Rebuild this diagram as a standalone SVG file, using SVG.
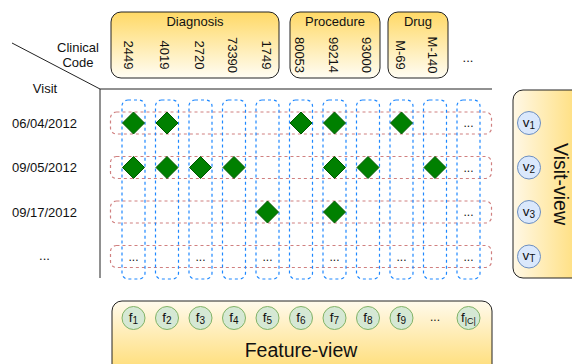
<svg xmlns="http://www.w3.org/2000/svg" width="572" height="364" viewBox="0 0 572 364">
<defs>
<linearGradient id="gTop" x1="0" y1="0" x2="0" y2="1"><stop offset="0" stop-color="#ffd966"/><stop offset="1" stop-color="#fffdf4"/></linearGradient>
<linearGradient id="gRight" x1="0" y1="0" x2="1" y2="0"><stop offset="0" stop-color="#fff8e6"/><stop offset="1" stop-color="#ffd966"/></linearGradient>
<linearGradient id="gBottom" x1="0" y1="0" x2="0" y2="1"><stop offset="0" stop-color="#fffaec"/><stop offset="1" stop-color="#ffd966"/></linearGradient>
<style>
text{font-family:"Liberation Sans",Arial,sans-serif;fill:#111;}
.t13{font-size:13px;}
.mid{text-anchor:middle;}
.code{font-size:13px;text-anchor:middle;dominant-baseline:central;}
.box{stroke:#222;stroke-width:1;}
.row{fill:none;stroke:#d08080;stroke-width:1.2;stroke-dasharray:3 3;}
.col{fill:none;stroke:#1e88ff;stroke-width:1.2;stroke-dasharray:3 3;}
.dia{fill:#008000;stroke:#005700;stroke-width:1;}
.vc{fill:#dae8fc;stroke:#6c8ebf;stroke-width:1;}
.fc{fill:#d5e8d4;stroke:#82b366;stroke-width:1;}
.cl{font-size:12px;text-anchor:middle;}
.lb{font-size:13.5px;text-anchor:middle;}
.big{font-size:19.5px;text-anchor:middle;}
.line{stroke:#222;stroke-width:1;fill:none;}
</style>
</defs>

<g id="axes">
<line class="line" x1="12" y1="43" x2="100" y2="89"/>
<line class="line" x1="100" y1="89" x2="492" y2="89"/>
<line class="line" x1="100" y1="89" x2="100" y2="278"/>
<text class="t13 mid" x="78" y="52">Clinical</text>
<text class="t13 mid" x="78" y="67">Code</text>
<text class="t13 mid" x="45" y="93">Visit</text>
</g>

<g id="diagnosis">
<rect class="box" x="111" y="12" width="168" height="66" rx="10" fill="url(#gTop)"/>
<text class="t13 mid" x="195" y="26">Diagnosis</text>
<text class="code" x="128.5" y="55" transform="rotate(90 128.5 55)">2449</text>
<text class="code" x="164.5" y="55" transform="rotate(90 164.5 55)">4019</text>
<text class="code" x="199" y="55" transform="rotate(90 199 55)">2720</text>
<text class="code" x="232.5" y="55" transform="rotate(90 232.5 55)">73390</text>
<text class="code" x="266.5" y="55" transform="rotate(90 266.5 55)">1749</text>
</g>
<g id="procedure">
<rect class="box" x="290" y="12" width="90" height="66" rx="10" fill="url(#gTop)"/>
<text class="t13 mid" x="335" y="26">Procedure</text>
<text class="code" x="299.5" y="55" transform="rotate(90 299.5 55)">80053</text>
<text class="code" x="333.5" y="55" transform="rotate(90 333.5 55)">99214</text>
<text class="code" x="366.5" y="55" transform="rotate(90 366.5 55)">93000</text>
</g>
<g id="drug">
<rect class="box" x="388" y="12" width="60" height="66" rx="10" fill="url(#gTop)"/>
<text class="t13 mid" x="418" y="26">Drug</text>
<text class="code" x="400" y="55" transform="rotate(90 400 55)">M-69</text>
<text class="code" x="432.5" y="55" transform="rotate(90 432.5 55)">M-140</text>
</g>
<text class="t13 mid" x="468" y="62">...</text>

<g id="visit-labels">
<text class="t13 mid" x="44.5" y="128">06/04/2012</text>
<text class="t13 mid" x="44.5" y="172">09/05/2012</text>
<text class="t13 mid" x="44.5" y="216.5">09/17/2012</text>
<text class="t13 mid" x="44.5" y="260">...</text>
</g>

<g id="rows">
<rect class="row" x="110.5" y="112" width="381" height="22" rx="6"/>
<rect class="row" x="110.5" y="156.5" width="381" height="22" rx="6"/>
<rect class="row" x="110.5" y="201" width="381" height="22" rx="6"/>
<rect class="row" x="110.5" y="245.5" width="381" height="22" rx="6"/>
</g>
<g id="columns">
<rect class="col" x="122" y="100" width="23" height="179" rx="6"/>
<rect class="col" x="155.5" y="100" width="23" height="179" rx="6"/>
<rect class="col" x="189" y="100" width="23" height="179" rx="6"/>
<rect class="col" x="222.5" y="100" width="23" height="179" rx="6"/>
<rect class="col" x="256" y="100" width="23" height="179" rx="6"/>
<rect class="col" x="289.5" y="100" width="23" height="179" rx="6"/>
<rect class="col" x="323" y="100" width="23" height="179" rx="6"/>
<rect class="col" x="356.5" y="100" width="23" height="179" rx="6"/>
<rect class="col" x="390" y="100" width="23" height="179" rx="6"/>
<rect class="col" x="423.5" y="100" width="23" height="179" rx="6"/>
<rect class="col" x="457" y="100" width="23" height="179" rx="6"/>
</g>

<g id="cells">
<path class="dia" d="M133.5 112 l11 11 l-11 11 l-11 -11 z"/>
<path class="dia" d="M167 112 l11 11 l-11 11 l-11 -11 z"/>
<path class="dia" d="M301 112 l11 11 l-11 11 l-11 -11 z"/>
<path class="dia" d="M334.5 112 l11 11 l-11 11 l-11 -11 z"/>
<path class="dia" d="M401.5 112 l11 11 l-11 11 l-11 -11 z"/>

<path class="dia" d="M133.5 156.5 l11 11 l-11 11 l-11 -11 z"/>
<path class="dia" d="M167 156.5 l11 11 l-11 11 l-11 -11 z"/>
<path class="dia" d="M200.5 156.5 l11 11 l-11 11 l-11 -11 z"/>
<path class="dia" d="M234 156.5 l11 11 l-11 11 l-11 -11 z"/>
<path class="dia" d="M334.5 156.5 l11 11 l-11 11 l-11 -11 z"/>
<path class="dia" d="M368 156.5 l11 11 l-11 11 l-11 -11 z"/>
<path class="dia" d="M435 156.5 l11 11 l-11 11 l-11 -11 z"/>

<path class="dia" d="M267.5 201 l11 11 l-11 11 l-11 -11 z"/>
<path class="dia" d="M334.5 201 l11 11 l-11 11 l-11 -11 z"/>

<text class="cl" x="468.5" y="127">...</text>
<text class="cl" x="468.5" y="171.5">...</text>
<text class="cl" x="468.5" y="216">...</text>
<text class="cl" x="133.5" y="260.5">...</text>
<text class="cl" x="200.5" y="260.5">...</text>
<text class="cl" x="267.5" y="260.5">...</text>
<text class="cl" x="334.5" y="260.5">...</text>
<text class="cl" x="401.5" y="260.5">...</text>
<text class="cl" x="468.5" y="260.5">...</text>
</g>

<g id="visit-view">
<rect class="box" x="513" y="90" width="80" height="188" rx="10" fill="url(#gRight)"/>
<circle class="vc" cx="529" cy="123" r="11.5"/>
<text class="lb" x="529" y="126.5">v<tspan dy="2" font-size="10">1</tspan></text>
<circle class="vc" cx="529" cy="167.5" r="11.5"/>
<text class="lb" x="529" y="171">v<tspan dy="2" font-size="10">2</tspan></text>
<circle class="vc" cx="529" cy="212" r="11.5"/>
<text class="lb" x="529" y="215.5">v<tspan dy="2" font-size="10">3</tspan></text>
<circle class="vc" cx="529" cy="256.5" r="11.5"/>
<text class="lb" x="529" y="260">v<tspan dy="2" font-size="10">T</tspan></text>
<text class="big" x="561" y="184" dominant-baseline="central" transform="rotate(90 561 184)">Visit-view</text>
</g>

<g id="feature-view">
<rect class="box" x="112" y="301" width="380" height="80" rx="10" fill="url(#gBottom)"/>
<circle class="fc" cx="133.5" cy="318" r="11.5"/>
<text class="lb" x="133.5" y="321.5">f<tspan dy="2" font-size="10">1</tspan></text>
<circle class="fc" cx="167" cy="318" r="11.5"/>
<text class="lb" x="167" y="321.5">f<tspan dy="2" font-size="10">2</tspan></text>
<circle class="fc" cx="200.5" cy="318" r="11.5"/>
<text class="lb" x="200.5" y="321.5">f<tspan dy="2" font-size="10">3</tspan></text>
<circle class="fc" cx="234" cy="318" r="11.5"/>
<text class="lb" x="234" y="321.5">f<tspan dy="2" font-size="10">4</tspan></text>
<circle class="fc" cx="267.5" cy="318" r="11.5"/>
<text class="lb" x="267.5" y="321.5">f<tspan dy="2" font-size="10">5</tspan></text>
<circle class="fc" cx="301" cy="318" r="11.5"/>
<text class="lb" x="301" y="321.5">f<tspan dy="2" font-size="10">6</tspan></text>
<circle class="fc" cx="334.5" cy="318" r="11.5"/>
<text class="lb" x="334.5" y="321.5">f<tspan dy="2" font-size="10">7</tspan></text>
<circle class="fc" cx="368" cy="318" r="11.5"/>
<text class="lb" x="368" y="321.5">f<tspan dy="2" font-size="10">8</tspan></text>
<circle class="fc" cx="401.5" cy="318" r="11.5"/>
<text class="lb" x="401.5" y="321.5">f<tspan dy="2" font-size="10">9</tspan></text>
<text class="cl" x="435" y="321">...</text>
<circle class="fc" cx="468.5" cy="318" r="11.5"/>
<text class="lb" x="468.5" y="321.5" font-size="12">f<tspan dy="2" font-size="9">|C|</tspan></text>
<text class="big" x="301" y="357">Feature-view</text>
</g>
</svg>
